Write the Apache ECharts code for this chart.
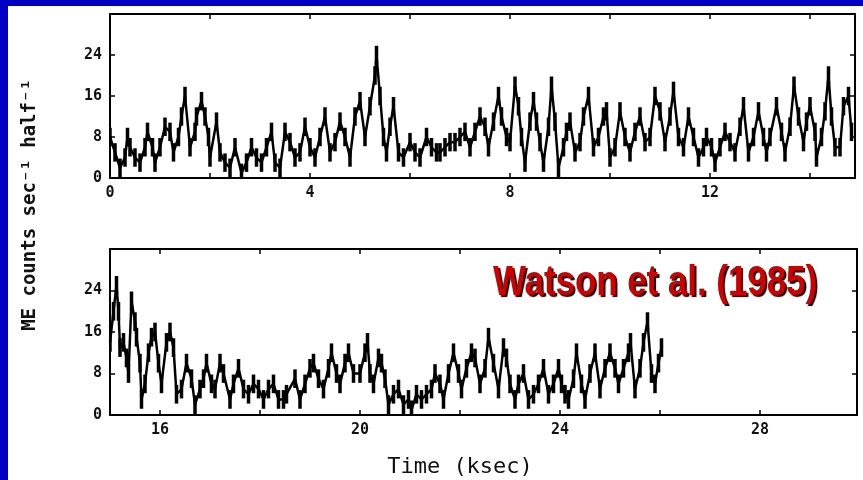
<!DOCTYPE html>
<html>
<head>
<meta charset="utf-8">
<title>ME light curve</title>
<style>body {margin: 0; background: #fff;}</style>
<script src="https://cdn.jsdelivr.net/npm/echarts@6/dist/echarts.min.js"></script>
</head>
<body>
<div id="main" style="width: 863px; height: 480px;"></div>
<script type="text/javascript">
// upper panel: 0 - 15 ksec
var topTime = [0, 0.1, 0.2, 0.3, 0.35, 0.4, 0.5, 0.6, 0.7, 0.75, 0.85, 0.9, 1.0, 1.1, 1.2, 1.27, 1.37, 1.43, 1.5, 1.6,
  1.7, 1.73, 1.83, 1.9, 1.97, 2.0, 2.13, 2.2, 2.3, 2.4, 2.5, 2.63, 2.73, 2.83, 2.93, 3.03, 3.13, 3.23,
  3.3, 3.4, 3.5, 3.6, 3.7, 3.8, 3.9, 4.0, 4.1, 4.2, 4.3, 4.4, 4.5, 4.6, 4.7, 4.8, 4.9, 5.0, 5.1, 5.2, 5.3, 5.33,
  5.4, 5.47, 5.53, 5.6, 5.67, 5.77, 5.87, 6.0, 6.1, 6.2, 6.33, 6.43, 6.53,
  6.6, 6.7, 6.8, 6.9, 7.0, 7.1, 7.2, 7.3, 7.4, 7.5, 7.57, 7.67, 7.77, 7.83, 7.93, 8.0, 8.1, 8.17, 8.23, 8.3,
  8.4, 8.47, 8.53, 8.6, 8.67, 8.77, 8.83, 8.9, 8.97, 9.07, 9.13, 9.2, 9.3, 9.4, 9.47, 9.57, 9.67, 9.77,
  9.87, 9.93, 10.0, 10.1, 10.2, 10.3, 10.4, 10.5, 10.6, 10.7, 10.8, 10.9, 11.0, 11.1, 11.2, 11.27, 11.37, 11.47,
  11.57, 11.67, 11.77, 11.87, 11.93, 12.03, 12.1, 12.2, 12.3, 12.4, 12.5, 12.6, 12.67, 12.77, 12.87, 12.97, 13.07,
  13.13, 13.2, 13.33, 13.43, 13.5, 13.6, 13.68, 13.77, 13.87, 13.93, 14.0, 14.1, 14.13, 14.23, 14.3, 14.37,
  14.43, 14.5, 14.6, 14.67, 14.77, 14.83];
var topRate = [8, 5, 2, 4, 8, 6, 4, 3, 6, 9, 6, 3, 6, 10, 9, 5, 8, 12, 16, 6,
  9, 12, 15, 12, 8, 4, 11, 5, 3, 2, 6, 1, 3, 6, 4, 3, 6, 9,
  3, 2, 9, 7, 4, 5, 10, 6, 4, 8, 12, 5, 7, 11, 8, 4, 12, 15, 8, 14, 20, 24,
  16, 8, 5, 10, 14, 5, 4, 7, 5, 4, 8, 6, 5,
  5, 6, 7, 7, 8, 9, 6, 9, 12, 10, 6, 11, 16, 12, 8, 7, 18, 14, 8, 3,
  11, 15, 11, 7, 3, 10, 18, 11, 2, 6, 9, 11, 5, 7, 12, 16, 6, 8,
  12, 13, 4, 6, 13, 8, 5, 9, 12, 7, 8, 16, 13, 7, 12, 17, 8, 6,
  12, 8, 4, 6, 8, 6, 3, 6, 9, 7, 5, 10, 14, 5, 8, 13, 8,
  5, 8, 14, 9, 5, 10, 18, 12, 7, 11, 14, 9, 4, 8, 13, 20,
  12, 6, 6, 14, 16, 9];

// lower panel: 15 - 30 ksec
var botTime = [15.0, 15.07, 15.13, 15.17, 15.2, 15.27, 15.33, 15.37, 15.43, 15.5, 15.53, 15.6, 15.63, 15.7, 15.77,
  15.83, 15.9, 15.97, 16.03, 16.13, 16.2, 16.27, 16.33, 16.43, 16.53, 16.63, 16.7, 16.8, 16.87, 16.93,
  17.03, 17.1, 17.2, 17.27, 17.4, 17.47, 17.57, 17.67, 17.77, 17.87, 17.97, 18.07, 18.17, 18.27, 18.37,
  18.47, 18.53, 18.7, 18.8, 18.9, 19.0, 19.07, 19.17, 19.27, 19.37, 19.43, 19.53, 19.6, 19.7, 19.77, 19.87,
  20.0, 20.1, 20.15, 20.2, 20.27, 20.37, 20.43, 20.5, 20.57, 20.67, 20.77, 20.87, 20.97, 21.03, 21.13, 21.23,
  21.33, 21.43, 21.5, 21.6, 21.67, 21.77, 21.87, 21.97, 22.03, 22.13, 22.23, 22.3, 22.4, 22.5, 22.57, 22.67,
  22.77, 22.87, 22.93, 23.0, 23.1, 23.17, 23.27, 23.37, 23.47, 23.57, 23.67, 23.77, 23.87, 23.97,
  24.03, 24.1, 24.17, 24.27, 24.33, 24.43, 24.5, 24.6, 24.7, 24.8, 24.9, 25.0, 25.1, 25.17, 25.27, 25.37,
  25.41, 25.5, 25.6, 25.67, 25.75, 25.83, 25.9, 25.97, 26.03];
var botRate = [14, 20, 25, 20, 13, 14, 11, 8, 22, 18, 15, 10, 3, 6, 12,
  15, 16, 10, 6, 14, 16, 13, 4, 5, 10, 7, 2, 5, 7, 10,
  6, 5, 10, 8, 3, 6, 9, 5, 4, 6, 5, 3, 5, 6, 3,
  3, 4, 7, 3, 6, 9, 10, 7, 5, 9, 12, 8, 6, 10, 12, 8,
  8, 12, 14, 8, 6, 11, 10, 7, 2, 4, 5, 2, 3, 1, 4, 3,
  4, 5, 8, 6, 3, 8, 12, 8, 5, 9, 12, 11, 6, 9, 15, 10,
  5, 13, 11, 6, 3, 6, 8, 3, 4, 6, 9, 4, 6, 9,
  6, 4, 3, 7, 12, 6, 3, 8, 12, 5, 9, 12, 9, 6, 9, 12,
  14, 5, 9, 14, 18, 8, 6, 10, 13];

var topTicks = [2, 4, 6, 8, 10, 12, 14];
var topLabels = [0, 4, 8, 12];
var botTicks = [16, 18, 20, 22, 24, 26, 28];
var botLabels = [16, 20, 24, 28];
var yTicks = [8, 16, 24];
var yLabels = [0, 8, 16, 24];
var ERR = 1.8; // half-height of the plotted error bars

var chartDom = document.getElementById('main');
var myChart = echarts.init(chartDom);

function pairs(t, v) {
  var out = [];
  for (var i = 0; i < t.length; i++) out.push([t[i], v[i]]);
  return out;
}

function errBar(params, api) {
  var x = api.value(0), v = api.value(1);
  var lo = api.coord([x, v - ERR]);
  var hi = api.coord([x, v + ERR]);
  return {type: 'line', shape: {x1: lo[0], y1: lo[1], x2: hi[0], y2: hi[1]},
    style: {stroke: '#000', lineWidth: 3.5}};
}

var tickFont = {fontFamily: 'DejaVu Sans Mono', fontWeight: 'bold', fontSize: 15, color: '#111'};

function xAx(g, min, max, ticks, labels, pos) {
  return {
    gridIndex: g, type: 'value', min: min, max: max, position: pos,
    axisLine: {onZero: false, lineStyle: {color: '#000', width: 2}},
    axisTick: {inside: true, length: 5, customValues: ticks, lineStyle: {color: '#000', width: 1.5}},
    axisLabel: pos === 'top' ? {show: false} :
      Object.assign({customValues: labels, margin: 8}, tickFont),
    splitLine: {show: false}
  };
}
function yAx(g, pos) {
  return {
    gridIndex: g, type: 'value', min: 0, max: 32, position: pos,
    axisLine: {onZero: false, lineStyle: {color: '#000', width: 2}},
    axisTick: {inside: true, length: 5, customValues: yTicks, lineStyle: {color: '#000', width: 1.5}},
    axisLabel: pos === 'right' ? {show: false} :
      Object.assign({customValues: yLabels, margin: 8}, tickFont),
    splitLine: {show: false}
  };
}

var option = {
  animation: false,
  backgroundColor: '#fff',
  graphic: [
    {type: 'rect', shape: {x: 0, y: 0, width: 863, height: 6}, style: {fill: '#0000c4'}},
    {type: 'rect', shape: {x: 0, y: 0, width: 8, height: 480}, style: {fill: '#0000c4'}},
    {type: 'text', x: 30, y: 205, rotation: Math.PI / 2,
      style: {text: 'ME counts sec\u207b\u00b9 half\u207b\u00b9', fontFamily: 'DejaVu Sans Mono', fontWeight: 'bold',
        fontSize: 19, fill: '#111', textAlign: 'center', textVerticalAlign: 'middle'}},
    {type: 'text', x: 460, y: 467,
      style: {text: 'Time (ksec)', fontFamily: 'DejaVu Sans Mono', fontSize: 22,
        fill: '#111', textAlign: 'center', textVerticalAlign: 'middle'}},
    {type: 'text', x: 655, y: 283, z: 100, scaleX: 0.83,
      style: {text: 'Watson et al. (1985)', fontFamily: 'Liberation Sans',
        fontWeight: 'bold', fontSize: 42, fill: '#d00000', textAlign: 'center', textVerticalAlign: 'middle',
        textShadowColor: '#000', textShadowOffsetX: 2, textShadowOffsetY: 2, textShadowBlur: 1}}
  ],
  grid: [
    {left: 110, top: 14, width: 745, height: 164},
    {left: 110, top: 249, width: 747, height: 166}
  ],
  xAxis: [
    xAx(0, 0, 14.9, topTicks, topLabels, 'bottom'),
    xAx(0, 0, 14.9, topTicks, topLabels, 'top'),
    xAx(1, 15, 29.94, botTicks, botLabels, 'bottom'),
    xAx(1, 15, 29.94, botTicks, botLabels, 'top')
  ],
  yAxis: [yAx(0, 'left'), yAx(0, 'right'), yAx(1, 'left'), yAx(1, 'right')],
  series: [
    {type: 'line', xAxisIndex: 0, yAxisIndex: 0, data: pairs(topTime, topRate), symbol: 'none',
      lineStyle: {color: '#000', width: 2.5}},
    {type: 'custom', xAxisIndex: 0, yAxisIndex: 0, data: pairs(topTime, topRate), renderItem: errBar, clip: true},
    {type: 'line', xAxisIndex: 2, yAxisIndex: 2, data: pairs(botTime, botRate), symbol: 'none',
      lineStyle: {color: '#000', width: 2.5}},
    {type: 'custom', xAxisIndex: 2, yAxisIndex: 2, data: pairs(botTime, botRate), renderItem: errBar, clip: true}
  ]
};
myChart.setOption(option);
</script>
</body>
</html>
